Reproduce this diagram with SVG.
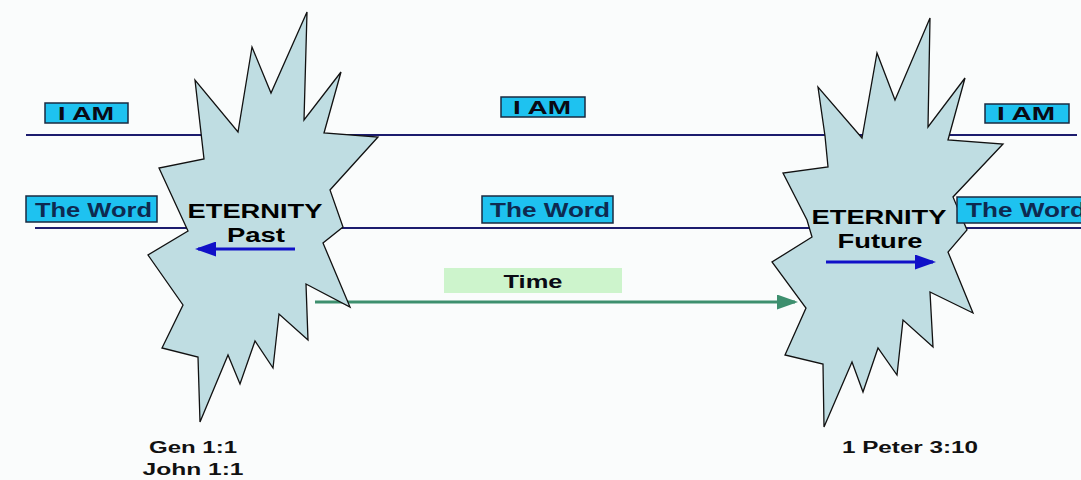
<svg xmlns="http://www.w3.org/2000/svg" width="1081" height="480" viewBox="0 0 1081 480">
<defs>
<style>
.line{stroke:#1c1c6e;stroke-width:2;fill:none}
.burst{fill:#bfdde2;stroke:#111;stroke-width:1.3;stroke-linejoin:miter}
.box{fill:#1ec2f0;stroke:#1a2a40;stroke-width:1.5}
.lbl{font-family:"Liberation Sans",Arial,sans-serif;font-weight:bold;fill:#0a0a14}
.word{font-family:"Liberation Sans",Arial,sans-serif;fill:#0e2a50;font-size:20px;font-weight:bold}
.ttl{font-family:"Liberation Sans",Arial,sans-serif;font-weight:bold;fill:#000;font-size:20px}
.ref{font-family:"Liberation Sans",Arial,sans-serif;fill:#111;font-size:16px;font-weight:bold}
</style>
<marker id="blueHead" markerWidth="7" markerHeight="5" refX="6" refY="2.5" orient="auto" markerUnits="strokeWidth">
<path d="M0,0 L7,2.5 L0,5 Z" fill="#1010c8"/>
</marker>
<marker id="greenHead" markerWidth="7" markerHeight="5" refX="6" refY="2.5" orient="auto" markerUnits="strokeWidth">
<path d="M0,0 L7,2.5 L0,5 Z" fill="#3d8f6e"/>
</marker>
</defs>
<rect width="1081" height="480" fill="#fafcfc"/>

<g id="connectors">
<line class="line" x1="26" y1="135" x2="1077" y2="135"/>
<line class="line" x1="35" y1="228" x2="1081" y2="228"/>
<line x1="315" y1="302" x2="795" y2="302" stroke="#3d8f6e" stroke-width="3" marker-end="url(#greenHead)"/>
</g>

<g id="eternity-past">
<polygon class="burst" points="307,12 304,120 341,72 324,133 378,137 330,190 343,227 323,243 350,307 306,284 308,340 279,314 273,368 255,341 240,384 228,355 200,422 198,357 162,348 183,305 148,255 188,231 159,168 204,159 195,80 238,132 252,47 271,93"/>
<text class="ttl" x="255" y="218" text-anchor="middle" textLength="135" lengthAdjust="spacingAndGlyphs">ETERNITY</text>
<text class="ttl" x="256" y="242" text-anchor="middle" textLength="58" lengthAdjust="spacingAndGlyphs">Past</text>
<line x1="295" y1="249" x2="198" y2="249" stroke="#1010c8" stroke-width="3" marker-end="url(#blueHead)"/>
</g>

<g id="eternity-future">
<polygon class="burst" points="930,18 928,127 965,78 948,140 1003,144 953,197 967,230 948,252 973,313 930,292 933,347 903,320 897,375 878,348 863,392 852,362 824,427 823,364 785,355 806,308 772,262 812,237 807,220 783,173 828,167 825,136 818,87 862,138 877,53 895,100"/>
<text class="ttl" x="879" y="224" text-anchor="middle" textLength="135" lengthAdjust="spacingAndGlyphs">ETERNITY</text>
<text class="ttl" x="880" y="248" text-anchor="middle" textLength="85" lengthAdjust="spacingAndGlyphs">Future</text>
<line x1="826" y1="262" x2="933" y2="262" stroke="#1010c8" stroke-width="3" marker-end="url(#blueHead)"/>
</g>

<g id="iam-left">
<rect class="box" x="45" y="103" width="83" height="20"/>
<text class="lbl" x="86" y="120" font-size="19" text-anchor="middle" textLength="56" lengthAdjust="spacingAndGlyphs">I AM</text>
</g>
<g id="iam-middle">
<rect class="box" x="501" y="97" width="84" height="20"/>
<text class="lbl" x="542" y="114" font-size="19" text-anchor="middle" textLength="58" lengthAdjust="spacingAndGlyphs">I AM</text>
</g>
<g id="iam-right">
<rect class="box" x="985" y="104" width="84" height="19"/>
<text class="lbl" x="1026" y="120" font-size="19" text-anchor="middle" textLength="58" lengthAdjust="spacingAndGlyphs">I AM</text>
</g>

<g id="word-left">
<rect class="box" x="26" y="196" width="131" height="26"/>
<text class="word" x="35" y="217" textLength="117" lengthAdjust="spacingAndGlyphs">The Word</text>
</g>
<g id="word-middle">
<rect class="box" x="482" y="196" width="131" height="27"/>
<text class="word" x="490" y="217" textLength="120" lengthAdjust="spacingAndGlyphs">The Word</text>
</g>
<g id="word-right">
<rect class="box" x="957" y="197" width="135" height="26"/>
<text class="word" x="966" y="217" textLength="120" lengthAdjust="spacingAndGlyphs">The Word</text>
</g>

<g id="time">
<rect x="444" y="268" width="178" height="25" fill="#cdf4cc"/>
<text class="lbl" x="533" y="288" font-size="18" text-anchor="middle" textLength="59" lengthAdjust="spacingAndGlyphs">Time</text>
</g>

<g id="refs">
<text class="ref" x="193" y="453" text-anchor="middle" textLength="88" lengthAdjust="spacingAndGlyphs">Gen 1:1</text>
<text class="ref" x="193" y="475" text-anchor="middle" textLength="101" lengthAdjust="spacingAndGlyphs">John 1:1</text>
<text class="ref" x="910" y="453" text-anchor="middle" textLength="136" lengthAdjust="spacingAndGlyphs">1 Peter 3:10</text>
</g>
</svg>
